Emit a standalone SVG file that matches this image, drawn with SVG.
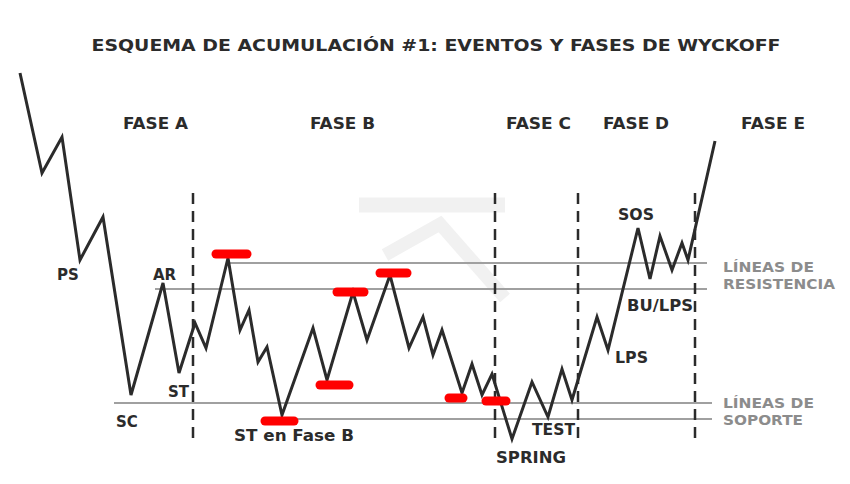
<svg xmlns="http://www.w3.org/2000/svg" width="850" height="484" viewBox="0 0 850 484">
<style>
.lbl{font-family:"DejaVu Sans",Verdana,sans-serif;font-weight:bold;font-size:15px;fill:#2b2b2b}
.gl{font-family:"DejaVu Sans",Verdana,sans-serif;font-weight:bold;font-size:14px;fill:#8c8c8c}
.grid{stroke:#a0a0a0;stroke-width:2;fill:none}
.dash{stroke:#2b2b2b;stroke-width:2.5;stroke-dasharray:11 7;fill:none}
.mark{stroke:#ff0000;stroke-width:9;stroke-linecap:round;fill:none}
.price{stroke:#2b2b2b;stroke-width:3;fill:none;stroke-linejoin:miter}
</style>
<rect width="850" height="484" fill="#ffffff"/>
<g id="watermark" fill="none" stroke="#f1f1f1">
<line x1="359" y1="205" x2="505" y2="205" stroke-width="15"/>
<polyline points="385,255 440,224 505,298" stroke-width="13"/>
</g>
<text id="title" x="436" y="51" text-anchor="middle" class="lbl" font-size="16" textLength="689" lengthAdjust="spacingAndGlyphs">ESQUEMA DE ACUMULACIÓN #1: EVENTOS Y FASES DE WYCKOFF</text>
<g id="levels">
<line class="grid" x1="228" y1="263" x2="707" y2="263"/>
<line class="grid" x1="155" y1="289" x2="707" y2="289"/>
<line class="grid" x1="114" y1="403" x2="712" y2="403"/>
<line class="grid" x1="262" y1="419" x2="712" y2="419"/>
</g>
<g id="phase-dividers">
<line class="dash" x1="193" y1="193" x2="193" y2="441"/>
<line class="dash" x1="495" y1="193" x2="495" y2="441"/>
<line class="dash" x1="578" y1="193" x2="578" y2="441"/>
<line class="dash" x1="695" y1="193" x2="695" y2="441"/>
</g>
<g id="connectors">
<polyline class="price" points="20,73 42,173 62,137 80,260 103,217 131,395 163,283 179,373 195,323 206,348 228,258 240,330 249,310 258,362 267,347 282,415 313,328 327,380 353,292 367,340 390,275 409,348 423,317 433,355 442,330 462,393 472,364 482,395 492,374 512,439 532,382 548,417 562,369 572,400 597,317 608,350 638,228 650,279 660,236 672,270 682,243 688,260 715,141"/>
</g>
<g id="markers">
<line class="mark" x1="216" y1="254" x2="247" y2="254"/>
<line class="mark" x1="265" y1="421" x2="294" y2="421"/>
<line class="mark" x1="320" y1="385" x2="349" y2="385"/>
<line class="mark" x1="337" y1="292" x2="364" y2="292"/>
<line class="mark" x1="380" y1="273" x2="407" y2="273"/>
<line class="mark" x1="449" y1="398" x2="463" y2="398"/>
<line class="mark" x1="486" y1="401" x2="506" y2="401"/>
</g>
<g id="phases">
<text id="fase-a" class="lbl" x="123" y="129" textLength="65" lengthAdjust="spacingAndGlyphs">FASE A</text>
<text id="fase-b" class="lbl" x="310" y="129" textLength="65" lengthAdjust="spacingAndGlyphs">FASE B</text>
<text id="fase-c" class="lbl" x="506" y="129" textLength="65" lengthAdjust="spacingAndGlyphs">FASE C</text>
<text id="fase-d" class="lbl" x="603" y="129" textLength="66" lengthAdjust="spacingAndGlyphs">FASE D</text>
<text id="fase-e" class="lbl" x="741" y="129" textLength="64" lengthAdjust="spacingAndGlyphs">FASE E</text>
</g>
<g id="events">
<text id="ps" class="lbl" x="57" y="280">PS</text>
<text id="ar" class="lbl" x="153" y="280">AR</text>
<text id="st" class="lbl" x="168" y="397">ST</text>
<text id="sc" class="lbl" x="116" y="427">SC</text>
<text id="st-b" class="lbl" x="234" y="441" textLength="120" lengthAdjust="spacingAndGlyphs">ST en Fase B</text>
<text id="spring" class="lbl" x="496" y="463" textLength="70" lengthAdjust="spacingAndGlyphs">SPRING</text>
<text id="test" class="lbl" x="532" y="435" textLength="43" lengthAdjust="spacingAndGlyphs">TEST</text>
<text id="lps" class="lbl" x="615" y="363" textLength="33" lengthAdjust="spacingAndGlyphs">LPS</text>
<text id="bulps" class="lbl" x="627" y="311" textLength="66" lengthAdjust="spacingAndGlyphs">BU/LPS</text>
<text id="sos" class="lbl" x="618" y="220" textLength="36" lengthAdjust="spacingAndGlyphs">SOS</text>
</g>
<g id="level-labels">
<text class="gl" x="723" y="272" textLength="91" lengthAdjust="spacingAndGlyphs">LÍNEAS DE</text>
<text class="gl" x="723" y="289" textLength="112" lengthAdjust="spacingAndGlyphs">RESISTENCIA</text>
<text class="gl" x="723" y="408" textLength="91" lengthAdjust="spacingAndGlyphs">LÍNEAS DE</text>
<text class="gl" x="723" y="425" textLength="80" lengthAdjust="spacingAndGlyphs">SOPORTE</text>
</g>
</svg>
